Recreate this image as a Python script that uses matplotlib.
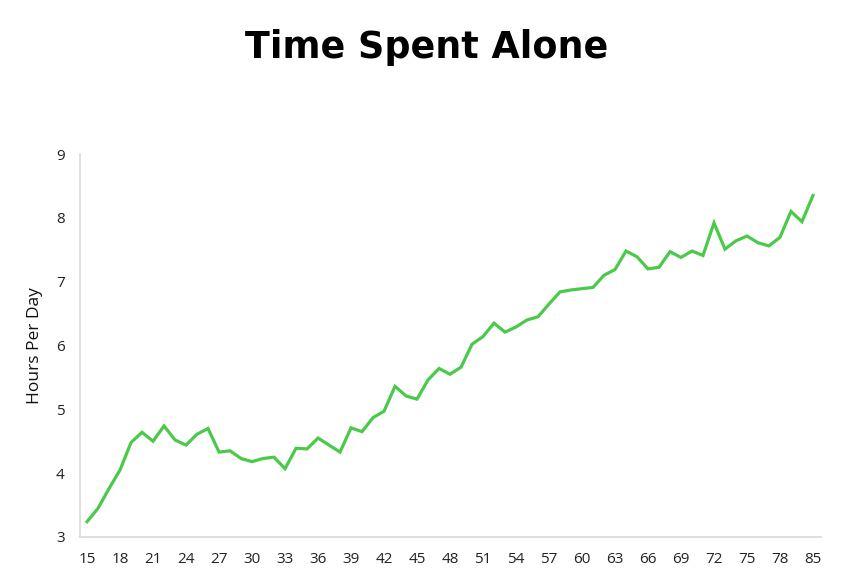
import matplotlib
matplotlib.use("Agg")
import matplotlib.pyplot as plt

ages = list(range(15, 81)) + [85]
hours = [3.24, 3.45, 3.76, 4.05, 4.48, 4.64, 4.50, 4.74, 4.52, 4.44,
         4.61, 4.70, 4.33, 4.35, 4.23, 4.18, 4.23, 4.25, 4.07, 4.39,
         4.38, 4.55, 4.44, 4.33, 4.71, 4.65, 4.87, 4.97, 5.36, 5.21,
         5.16, 5.46, 5.64, 5.55, 5.66, 6.02, 6.14, 6.35, 6.21, 6.29,
         6.40, 6.45, 6.65, 6.84, 6.87, 6.89, 6.91, 7.10, 7.19, 7.48,
         7.39, 7.20, 7.225, 7.47, 7.38, 7.48, 7.41, 7.92, 7.51, 7.64,
         7.715, 7.61, 7.56, 7.695, 8.10, 7.94, 8.35]
title = "Time Spent Alone"
ylabel = "Hours Per Day"

plt.rcParams['font.family'] = ['Open Sans', 'DejaVu Sans']

fig = plt.figure(figsize=(8.59, 5.77), dpi=100)
ax = fig.add_axes([80/859, 1-537/577, 741/859, 383/577])

idx = list(range(len(ages)))
ax.plot(idx, hours, color='#4bc94b', lw=2.3, solid_joinstyle='miter')

tick_idx = list(range(0, len(ages), 3))
ax.set_xticks(tick_idx)
ax.set_xticklabels([str(ages[i]) for i in tick_idx])
ax.set_xlim(-0.64, 66.73)
ax.set_ylim(3, 9)
ax.set_yticks(range(3, 10))
ax.tick_params(length=0, labelsize=11, colors='#222222')
ax.tick_params(axis='x', pad=11)
ax.tick_params(axis='y', pad=11)
for s in ['top', 'right']:
    ax.spines[s].set_visible(False)
for s in ['left', 'bottom']:
    ax.spines[s].set_color('#d9d9d9')
    ax.spines[s].set_linewidth(1.2)
ax.set_ylabel(ylabel, fontsize=12.5, labelpad=9, color='#111111')

fig.text(0.497, 1-48/577, title, ha='center', va='center',
         fontsize=26.3, fontweight='bold', color='#000000',
         family=['DejaVu Sans'])

fig.savefig('out.png', dpi=100)
